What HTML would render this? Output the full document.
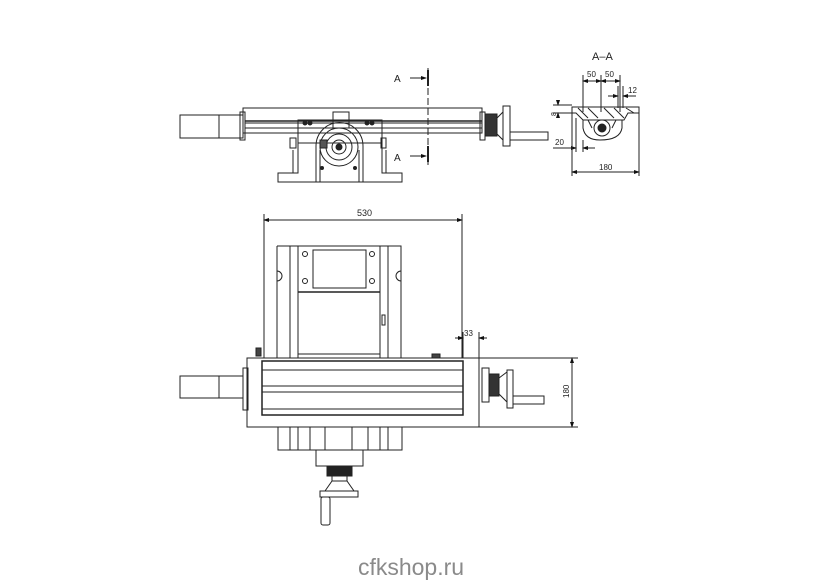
<!DOCTYPE html>
<html><head><style>
html,body{margin:0;padding:0;background:#fff;}
svg{display:block;}
text{font-family:"Liberation Sans",sans-serif;fill:#222;}
</style></head><body>
<svg width="820" height="580" viewBox="0 0 820 580" xmlns="http://www.w3.org/2000/svg">
<defs>
<marker id="ar" markerWidth="6" markerHeight="6" refX="5" refY="3" orient="auto"><path d="M0,1 L6,3 L0,5z" fill="#111"/></marker>
</defs>
<g fill="none" stroke="#222" stroke-width="1">
<!-- ===== TOP ELEVATION ===== -->
<rect x="180" y="115" width="63" height="23"/>
<line x1="219" y1="115" x2="219" y2="138"/>
<rect x="240" y="112" width="5" height="28"/>
<rect x="243" y="108" width="239" height="25"/>
<line x1="245" y1="121" x2="482" y2="121" stroke-width="1.5"/>
<line x1="245" y1="123" x2="482" y2="123"/>
<line x1="245" y1="128" x2="482" y2="128"/>
<rect x="480" y="112" width="5" height="28"/>
<!-- right handwheel -->
<rect x="485" y="114" width="12" height="22" fill="#333"/>
<path d="M497,118 L503,112 L503,140 L497,134z"/>
<rect x="503" y="106" width="7" height="40"/>
<rect x="510" y="132" width="38" height="8"/>
<!-- saddle -->
<rect x="298" y="120" width="84" height="23"/>
<rect x="333" y="112" width="16" height="16"/>
<circle cx="305" cy="123" r="2" fill="#222"/><circle cx="310" cy="123" r="2" fill="#222"/>
<circle cx="367" cy="123" r="2" fill="#222"/><circle cx="372" cy="123" r="2" fill="#222"/>
<rect x="290" y="138" width="6" height="10"/>
<rect x="381" y="138" width="5" height="10"/>
<!-- base -->
<path d="M298,143 L298,173 L278,173 L278,182 L402,182 L402,173 L382,173 L382,143"/>
<line x1="293" y1="150" x2="293" y2="173"/>
<line x1="386" y1="150" x2="386" y2="173"/>
<path d="M316,182 L316,146 A23,23 0 0 1 363,146 L363,182"/>
<line x1="320" y1="150" x2="320" y2="182"/>
<line x1="359" y1="150" x2="359" y2="182"/>
<circle cx="339" cy="147" r="19"/>
<circle cx="339" cy="147" r="13"/>
<circle cx="339" cy="147" r="7"/>
<circle cx="339" cy="147" r="3" fill="#222"/>
<rect x="320" y="140" width="7" height="8" fill="#555"/>
<circle cx="322" cy="168" r="1.5" fill="#222"/><circle cx="355" cy="168" r="1.5" fill="#222"/>
<!-- section line -->
<line x1="428" y1="68" x2="428" y2="165" stroke-dasharray="7,3"/>
<line x1="428" y1="70" x2="428" y2="86" stroke-width="2"/>
<line x1="428" y1="146" x2="428" y2="162" stroke-width="2"/>
<line x1="410" y1="78" x2="426" y2="78" marker-end="url(#ar)"/>
<line x1="410" y1="156" x2="426" y2="156" marker-end="url(#ar)"/>

<!-- ===== SECTION A-A ===== -->
<path d="M572,107 L639,107 L639,113 L628,113 L624,120 L583,120 L576,113 L572,113z"/>
<path d="M578,108 L588,118 M588,108 L598,118 M604,108 L614,118 M614,108 L624,118 M626,108 L634,113" stroke-width="1"/>
<path d="M583,120 L583,128 Q585,140 600,140 Q620,140 622,128 L622,120"/>
<path d="M588,120 L592,128 M612,128 L616,120"/>
<circle cx="602" cy="128" r="8"/>
<circle cx="602" cy="128" r="4" fill="#222"/>
<line x1="583" y1="75" x2="583" y2="112"/>
<line x1="601" y1="75" x2="601" y2="112"/>
<line x1="620" y1="75" x2="620" y2="112"/>
<line x1="592" y1="81" x2="583" y2="81" marker-end="url(#ar)"/>
<line x1="592" y1="81" x2="601" y2="81" marker-end="url(#ar)"/>
<line x1="611" y1="81" x2="601" y2="81" marker-end="url(#ar)"/>
<line x1="611" y1="81" x2="620" y2="81" marker-end="url(#ar)"/>
<line x1="618" y1="86" x2="618" y2="108"/>
<line x1="623" y1="86" x2="623" y2="108"/>
<line x1="608" y1="96" x2="618" y2="96" marker-end="url(#ar)"/>
<line x1="636" y1="96" x2="623" y2="96" marker-end="url(#ar)"/>
<line x1="553" y1="105" x2="572" y2="105"/>
<line x1="553" y1="113" x2="572" y2="113"/>
<line x1="558" y1="100" x2="558" y2="105" marker-end="url(#ar)"/>
<line x1="558" y1="118" x2="558" y2="113" marker-end="url(#ar)"/>
<line x1="576" y1="118" x2="576" y2="152"/>
<line x1="583" y1="140" x2="583" y2="152"/>
<line x1="553" y1="148" x2="576" y2="148" marker-end="url(#ar)"/>
<line x1="595" y1="148" x2="583" y2="148" marker-end="url(#ar)"/>
<line x1="572" y1="113" x2="572" y2="176"/>
<line x1="639" y1="113" x2="639" y2="176"/>
<line x1="605" y1="172" x2="572" y2="172" marker-end="url(#ar)"/>
<line x1="605" y1="172" x2="639" y2="172" marker-end="url(#ar)"/>

<!-- ===== PLAN VIEW ===== -->
<line x1="264" y1="214" x2="264" y2="358"/>
<line x1="462" y1="214" x2="462" y2="358"/>
<line x1="363" y1="220" x2="264" y2="220" marker-end="url(#ar)"/>
<line x1="363" y1="220" x2="462" y2="220" marker-end="url(#ar)"/>
<path d="M277,246 L401,246 L401,358 M277,358 L277,246"/>
<path d="M277,271 A5,5 0 0 1 277,281" />
<path d="M401,271 A5,5 0 0 0 401,281" />
<line x1="290" y1="246" x2="290" y2="358"/>
<line x1="298" y1="246" x2="298" y2="358"/>
<line x1="380" y1="246" x2="380" y2="358"/>
<line x1="388" y1="246" x2="388" y2="358"/>
<line x1="298" y1="292" x2="380" y2="292" stroke-width="1.5"/>
<rect x="313" y="250" width="53" height="38"/>
<circle cx="305" cy="254" r="2.5"/><circle cx="372" cy="254" r="2.5"/>
<circle cx="305" cy="281" r="2.5"/><circle cx="372" cy="281" r="2.5"/>
<rect x="382" y="315" width="3" height="10"/>
<rect x="256" y="348" width="5" height="8" fill="#444"/>
<rect x="432" y="354" width="8" height="4" fill="#444"/>
<rect x="298" y="354" width="82" height="4"/>
<!-- 33 -->
<line x1="463" y1="332" x2="463" y2="358"/>
<line x1="479" y1="332" x2="479" y2="358"/>
<line x1="455" y1="338" x2="463" y2="338" marker-end="url(#ar)"/>
<line x1="487" y1="338" x2="479" y2="338" marker-end="url(#ar)"/>
<!-- table -->
<rect x="180" y="376" width="63" height="22"/>
<line x1="219" y1="376" x2="219" y2="398"/>
<rect x="243" y="368" width="5" height="42"/>
<rect x="247" y="358" width="232" height="69"/>
<rect x="262" y="361" width="201" height="54" stroke-width="1.5"/>
<line x1="262" y1="370" x2="463" y2="370"/>
<line x1="262" y1="386" x2="463" y2="386"/>
<line x1="262" y1="392" x2="463" y2="392"/>
<line x1="262" y1="409" x2="463" y2="409"/>
<rect x="482" y="368" width="7" height="34"/>
<rect x="489" y="374" width="10" height="22" fill="#333"/>
<path d="M499,378 L507,372 L507,402 L499,394z"/>
<rect x="507" y="370" width="6" height="38"/>
<rect x="513" y="396" width="31" height="8"/>
<!-- 180 -->
<line x1="479" y1="358" x2="578" y2="358"/>
<line x1="479" y1="427" x2="578" y2="427"/>
<line x1="572" y1="392" x2="572" y2="358" marker-end="url(#ar)"/>
<line x1="572" y1="392" x2="572" y2="427" marker-end="url(#ar)"/>
<!-- lower saddle -->
<rect x="278" y="427" width="124" height="23"/>
<line x1="290" y1="427" x2="290" y2="450"/>
<line x1="298" y1="427" x2="298" y2="450"/>
<line x1="310" y1="427" x2="310" y2="450"/>
<line x1="325" y1="427" x2="325" y2="450"/>
<line x1="352" y1="427" x2="352" y2="450"/>
<line x1="368" y1="427" x2="368" y2="450"/>
<line x1="380" y1="427" x2="380" y2="450"/>
<line x1="388" y1="427" x2="388" y2="450"/>
<rect x="316" y="450" width="47" height="16"/>
<rect x="327" y="466" width="25" height="10" fill="#222"/>
<rect x="332" y="476" width="15" height="5"/>
<path d="M325,491 L332,481 L347,481 L354,491z"/>
<rect x="320" y="491" width="38" height="6"/>
<rect x="321" y="497" width="9" height="28" rx="2"/>
</g>
<g font-size="10">
<text x="394" y="82">A</text>
<text x="394" y="161">A</text>
<text x="592" y="60" font-size="11">A–A</text>
<text x="587" y="77" font-size="8">50</text>
<text x="605" y="77" font-size="8">50</text>
<text x="628" y="93" font-size="8">12</text>
<text x="555" y="145" font-size="8">20</text>
<text x="599" y="170" font-size="8">180</text>
<text x="357" y="216" font-size="9">530</text>
<text x="464" y="336" font-size="8">33</text>
<text x="0" y="0" font-size="8" transform="translate(569,398) rotate(-90)">180</text>
<text x="0" y="0" font-size="7" transform="translate(556,116) rotate(-90)">8</text>
</g>
<text x="411" y="575" font-size="23" text-anchor="middle" style="fill:#8a8a8a">cfkshop.ru</text>
</svg>
</body></html>
